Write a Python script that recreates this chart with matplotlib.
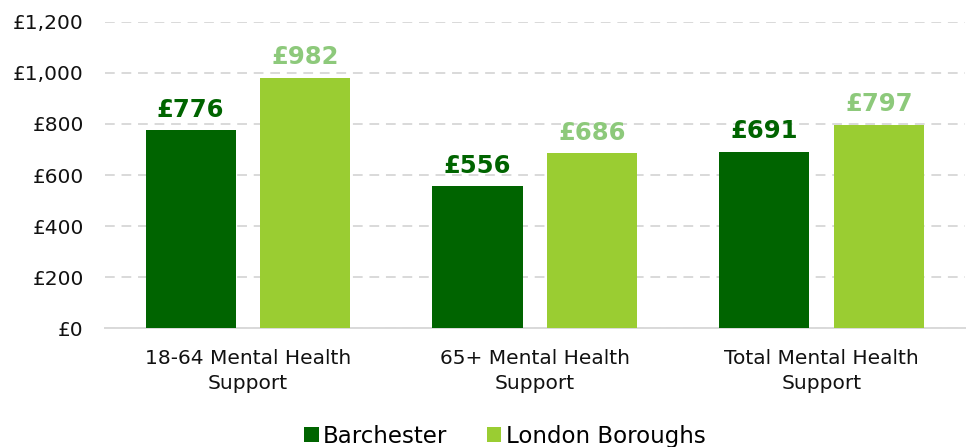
import numpy as np
import matplotlib
matplotlib.use("Agg")
import matplotlib.pyplot as plt
from matplotlib.ticker import FuncFormatter

categories = ["18-64 Mental Health\nSupport", "65+ Mental Health\nSupport", "Total Mental Health\nSupport"]
barchester = [776, 556, 691]
london = [982, 686, 797]
series_names = ["Barchester", "London Boroughs"]

dark = "#006400"
light = "#9ACD32"
light_label = "#8DC97B"

plt.rcParams["font.family"] = "DejaVu Sans"

fig = plt.figure(figsize=(9.69, 4.47), dpi=100)
ax = fig.add_axes([0.108, 0.266, 0.888, 0.685])

x = np.arange(len(categories))
w = 0.314
b1 = ax.bar(x - 0.2, barchester, w, color=dark, label=series_names[0], zorder=3)
b2 = ax.bar(x + 0.2, london, w, color=light, label=series_names[1], zorder=3)

for rect, v in zip(b1, barchester):
    ax.annotate(f"£{v:,}", (rect.get_x() + rect.get_width() / 2, v),
                xytext=(0, 6), textcoords="offset points", ha="center", va="bottom",
                fontsize=17.5, fontweight="bold", color=dark)
for rect, v in zip(b2, london):
    ax.annotate(f"£{v:,}", (rect.get_x() + rect.get_width() / 2, v),
                xytext=(0, 6), textcoords="offset points", ha="center", va="bottom",
                fontsize=17.5, fontweight="bold", color=light_label)

ax.set_xlim(-0.5, 2.5)
ax.set_ylim(0, 1200)
ax.set_yticks(range(0, 1201, 200))
ax.yaxis.set_major_formatter(FuncFormatter(lambda v, p: f"£{int(v):,}"))
ax.set_xticks(x)
ax.set_xticklabels(categories, linespacing=1.4)
ax.tick_params(axis="both", length=0, labelsize=14.5, colors="#111111")
ax.tick_params(axis="y", pad=15)
ax.tick_params(axis="x", pad=15)

ax.yaxis.grid(True, color="#d9d9d9", linestyle=(0, (5, 3.5)), linewidth=1.4, zorder=0)
for s in ["top", "right", "left"]:
    ax.spines[s].set_visible(False)
ax.spines["bottom"].set_color("#d9d9d9")
ax.spines["bottom"].set_linewidth(1.4)

ax.legend(loc="lower center", bbox_to_anchor=(0.465, -0.42), ncol=2, frameon=False,
          fontsize=16.5, handlelength=0.65, handleheight=0.65, handletextpad=0.2,
          columnspacing=1.7, borderaxespad=0)

fig.savefig("out.png", dpi=100)
